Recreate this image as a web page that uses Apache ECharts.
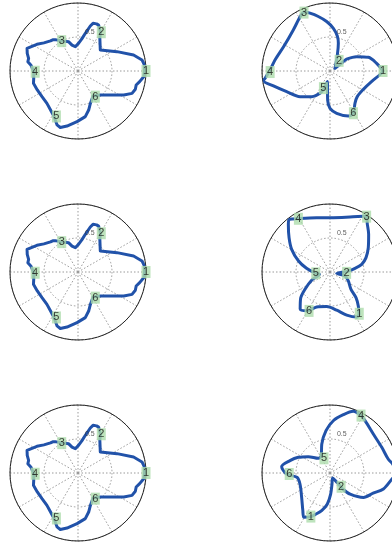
<!DOCTYPE html>
<html>
<head>
<meta charset="utf-8">
<script src="https://cdn.jsdelivr.net/npm/echarts@6/dist/echarts.min.js"></script>
<style>
  html, body { margin: 0; padding: 0; background: #ffffff; }
  #chart { width: 392px; height: 544px; }
</style>
</head>
<body>
<div id="chart"></div>
<script>
// Closed radial profiles, each point is [radius, angle in degrees]
const profileNoisy = [
  [0.98,0],[0.98,5.2],[0.955,9.8],[0.85,16],[0.64,26.4],[0.45,43.2],[0.58,56.4],[0.66,60],
  [0.74,65.8],[0.745,68.5],[0.73,70.5],[0.735,72.5],[0.686,74.7],[0.565,79],[0.48,83],[0.41,88.6],
  [0.36,96.3],[0.39,103],[0.45,107.6],[0.5,118],[0.57,126],[0.59,129],[0.6,132.4],[0.65,140.5],
  [0.72,147],[0.82,156],[0.79,160.9],[0.75,165.6],[0.76,168],[0.75,169.5],[0.7,172.7],[0.65,180.9],
  [0.66,189.4],[0.68,195.5],[0.66,204.9],[0.65,215.5],[0.66,226.2],[0.7,234.6],[0.76,242.6],
  [0.85,248.7],[0.87,252.6],[0.825,258.7],[0.745,268.9],[0.68,279.1],[0.595,285.3],[0.51,290.9],
  [0.43,301],[0.48,312.9],[0.59,323.4],[0.76,332.3],[0.86,337.5],[0.885,342.3],[0.88,346.5],
  [0.92,350.2],[0.97,355],[0.98,0]
];
const profileB = [
  [0.78,0],[0.695,9.3],[0.6,19.6],[0.445,28.3],[0.3,35.8],[0.24,35],[0.083,28],[0.26,65.4],
  [0.425,73.2],[0.526,78.2],[0.63,85.5],[0.73,93.9],[0.82,102.1],[0.9,109.1],[0.95,113.8],
  [0.91,118.9],[0.81,131.8],[0.77,152.5],[0.825,168.7],[0.87,177.4],[0.96,186.4],[0.99,188.3],
  [0.86,194.8],[0.706,205.5],[0.58,220.6],[0.464,234.5],[0.36,245.9],[0.27,250.9],[0.16,256],
  [0.43,265.4],[0.55,270],[0.63,279],[0.715,292.2],[0.71,298.9],[0.6,307.7],[0.55,316.8],
  [0.56,331.2],[0.63,345.6],[0.746,356.6],[0.78,0]
];
const profileD = [
  [0.245,1.1],[0.37,8.3],[0.48,13.6],[0.57,21.7],[0.667,32.4],[0.794,44.3],[0.89,51.9],[0.98,57.3],
  [0.86,70],[0.8,86.5],[0.82,103.9],[0.9,119.2],[0.98,127.7],[0.93,131.2],[0.786,140],[0.655,149.4],
  [0.49,160.8],[0.35,171],[0.22,183.8],[0.16,192.3],[0.3,204.4],[0.45,214.7],[0.58,221.9],[0.7,231.2],
  [0.66,239.8],[0.55,249.1],[0.51,264.5],[0.57,279.9],[0.68,291.2],[0.77,300.6],[0.755,304.4],
  [0.65,309.8],[0.537,315.4],[0.4,320.5],[0.3,333.9],[0.23,345],[0.1,348.7],[0.245,1.1]
];
const profileF = [
  [0.99,0],[0.93,8.2],[0.88,13.5],[0.85,26.4],[0.857,42],[0.926,56.2],[0.96,61.6],[0.97,69.3],
  [0.88,77.1],[0.77,86.4],[0.625,95.4],[0.44,106],[0.285,116.6],[0.276,128.5],[0.4,143],[0.52,153.7],
  [0.616,162.9],[0.717,172.5],[0.64,181.3],[0.49,187.4],[0.47,200.1],[0.55,220.7],[0.68,234],
  [0.756,239.6],[0.7,246.3],[0.65,250.2],[0.567,257.5],[0.457,265.1],[0.31,271.8],[0.164,280.3],
  [0.083,298],[0.15,305.8],[0.237,308.3],[0.3,308.4],[0.43,313.6],[0.61,323.9],[0.7,334.9],
  [0.82,343.3],[0.916,354.5],[0.99,0]
];

// Numbered markers 1..6 placed along each profile, [radius, angle]
const markersNoisy = [[1.0,0],[0.665,59],[0.5,118.6],[0.63,181],[0.74,244.6],[0.455,304]];
const markersB = [[0.78,0],[0.2,48],[0.94,114],[0.88,181],[0.27,249],[0.71,299]];
const markersD = [[0.75,305],[0.245,357],[0.976,56.5],[0.91,120.7],[0.21,185.3],[0.65,241.7]];
const markersF = [[0.7,246.3],[0.26,308.8],[1.0,0],[0.96,61.6],[0.233,112.2],[0.6,181.4]];

// Radius tick label shown on each dial
const radiusTicks = [0.5];
const radiusTickAngle = 80;

const panels = [
  { loop: profileNoisy, marks: markersNoisy, center: [78, 71],  smooth: false },
  { loop: profileB,     marks: markersB,     center: [330, 71], smooth: 0.3 },
  { loop: profileNoisy, marks: markersNoisy, center: [78, 272], smooth: false },
  { loop: profileD,     marks: markersD,     center: [330, 272], smooth: 0.3 },
  { loop: profileNoisy, marks: markersNoisy, center: [78, 473], smooth: false },
  { loop: profileF,     marks: markersF,     center: [330, 473], smooth: 0.3 }
];

const FONT = 'Liberation Sans, Arial, Helvetica, sans-serif';
const gridLine = { show: true, lineStyle: { color: '#9a9a9a', width: 1, type: [1.5, 2] } };

const polar = [], angleAxis = [], radiusAxis = [], series = [];
panels.forEach((p, i) => {
  polar.push({ center: p.center, radius: 68 });
  angleAxis.push({
    polarIndex: i, type: 'value', min: 0, max: 360, interval: 30,
    startAngle: 0, clockwise: false,
    axisLine: { show: true, lineStyle: { color: '#222', width: 1 } },
    axisTick: { show: false }, axisLabel: { show: false },
    splitLine: gridLine
  });
  radiusAxis.push({
    polarIndex: i, type: 'value', min: 0, max: 1, interval: 0.5,
    axisLine: { show: false }, axisTick: { show: false }, axisLabel: { show: false },
    splitLine: gridLine
  });
  series.push({
    type: 'line', coordinateSystem: 'polar', polarIndex: i,
    data: p.loop, showSymbol: false, smooth: p.smooth, clip: false,
    lineStyle: { color: '#2152a9', width: 3, join: 'round', cap: 'round' },
    z: 3
  });
  series.push({
    type: 'scatter', coordinateSystem: 'polar', polarIndex: i,
    data: p.marks, symbol: 'rect', symbolSize: [9, 12], clip: false,
    itemStyle: { color: '#addcab' },
    label: {
      show: true, position: 'inside', formatter: (d) => String(d.dataIndex + 1),
      color: '#111', fontSize: 11, fontFamily: FONT
    },
    z: 5
  });
  series.push({
    type: 'scatter', coordinateSystem: 'polar', polarIndex: i,
    data: radiusTicks.map(r => [r, radiusTickAngle]), symbolSize: 0, clip: false,
    itemStyle: { color: 'rgba(0,0,0,0)' },
    label: {
      show: true, position: 'right', distance: 1, offset: [0, -5],
      formatter: (d) => String(d.value[0]), color: '#333', fontSize: 7, fontFamily: FONT
    },
    z: 4
  });
});

const chart = echarts.init(document.getElementById('chart'), null, { renderer: 'canvas' });
chart.setOption({
  animation: false,
  backgroundColor: '#ffffff',
  polar, angleAxis, radiusAxis, series
});
</script>
</body>
</html>
